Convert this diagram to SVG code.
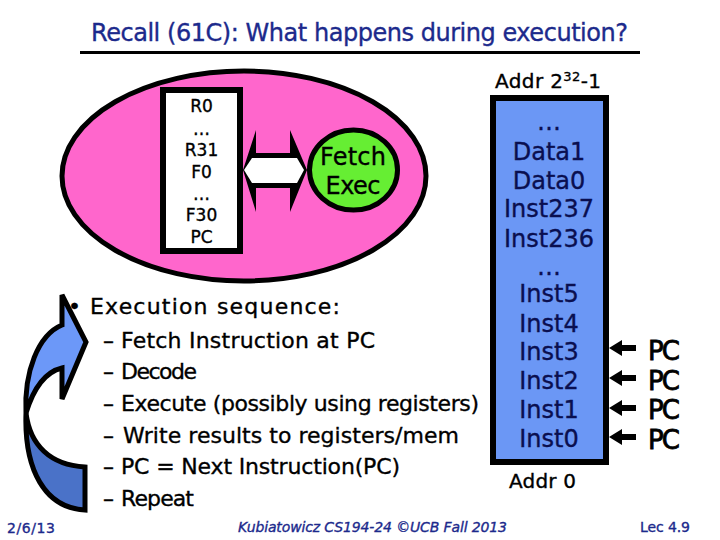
<svg xmlns="http://www.w3.org/2000/svg" width="720" height="540" viewBox="0 0 720 540">
<style>
text{font-family:"DejaVu Sans","Liberation Sans",sans-serif;fill:#000;stroke:#000;stroke-width:.35px}
.t{fill:#1c2a8c;stroke:#1c2a8c;font-size:24px}
.r{font-size:17px;text-anchor:middle}
.m{font-size:24px;text-anchor:middle;fill:#0a0f50;stroke:#0a0f50}
.b{font-size:22px}
.f{font-size:14px;fill:#1c2a8c;stroke:#1c2a8c}
.p{font-size:26px;stroke-width:.8px}
</style>
<rect width="720" height="540" fill="#fff"/>
<g id="title"><text class="t" x="91" y="41" textLength="537">Recall (61C): What happens during execution?</text>
<rect x="80" y="51" width="560" height="3" fill="#000"/></g>
<g id="cpu"><ellipse cx="244" cy="176" rx="182" ry="105" fill="#ff66cc" stroke="#000" stroke-width="5"/></g>
<g id="registers"><rect x="163" y="90" width="77" height="161" fill="#fff" stroke="#000" stroke-width="6"/>
<text class="r" x="201.500" y="112">R0</text><text class="r" x="201.500" y="135">…</text><text class="r" x="201.500" y="156">R31</text><text class="r" x="201.500" y="178">F0</text><text class="r" x="201.500" y="200">…</text><text class="r" x="201.500" y="221">F30</text><text class="r" x="201.500" y="243">PC</text></g>
<g id="fetch"><ellipse cx="353.500" cy="170" rx="44" ry="40" fill="#66ee33" stroke="#000" stroke-width="5"/>
<text x="353" y="165" font-size="24" text-anchor="middle" textLength="66">Fetch</text><text x="353" y="194" font-size="24" text-anchor="middle" textLength="55">Exec</text></g>
<g id="connectors">
<path d="M243 170L256 130V153H290V130L307 170L290 212V188H256V212Z" fill="#000"/>
<path d="M244 170L252 158H297L304 170L297 183H252Z" fill="#fff"/>
<path d="M609 348L622 340V345H636V351H622V356Z" fill="#000"/>
<path d="M609 378L622 370V375H636V381H622V386Z" fill="#000"/>
<path d="M609 408L622 400V405H636V411H622V416Z" fill="#000"/>
<path d="M609 437L622 429V434H636V440H622V445Z" fill="#000"/>
</g>
<g id="memory"><rect x="493" y="98" width="113" height="364" fill="#6b97f5" stroke="#000" stroke-width="6"/>
<text class="m" x="549" y="130">…</text><text class="m" x="549" y="160">Data1</text><text class="m" x="549" y="189">Data0</text><text class="m" x="549" y="217">Inst237</text><text class="m" x="549" y="247">Inst236</text><text class="m" x="549" y="275">…</text><text class="m" x="549" y="302">Inst5</text><text class="m" x="549" y="332">Inst4</text><text class="m" x="549" y="360">Inst3</text><text class="m" x="549" y="389">Inst2</text><text class="m" x="549" y="418">Inst1</text><text class="m" x="549" y="447">Inst0</text></g>
<g id="addr"><text x="495" y="88" font-size="20" textLength="106">Addr 2<tspan font-size="13" dy="-7">32</tspan><tspan dy="7">-1</tspan></text>
<text x="509" y="488" font-size="20" textLength="67">Addr 0</text></g>
<g id="pcs"><text class="p" x="648" y="360" textLength="32">PC</text><text class="p" x="648" y="390" textLength="32">PC</text><text class="p" x="648" y="419" textLength="32">PC</text><text class="p" x="648" y="449" textLength="32">PC</text></g>
<g id="curve"><path d="M62 368C45 372 33 390 26 413C24 372 38 335 62 325V295L86 342L62 399Z" fill="#6c98f8" stroke="#000" stroke-width="5"/>
<path d="M26 413C30 445 50 465 85 467V510C45 508 24 470 26 413Z" fill="#4a72c8" stroke="#000" stroke-width="5"/></g>
<g id="list">
<text class="b" x="68" y="314">•</text><text class="b" x="90" y="314" textLength="250">Execution sequence:</text>
<text class="b" x="103" y="348">–</text><text class="b" x="121" y="348" textLength="254">Fetch Instruction at PC</text>
<text class="b" x="103" y="379">–</text><text class="b" x="121" y="379" textLength="76">Decode</text>
<text class="b" x="103" y="411">–</text><text class="b" x="121" y="411" textLength="358">Execute (possibly using registers)</text>
<text class="b" x="103" y="443">–</text><text class="b" x="123" y="443" textLength="336">Write results to registers/mem</text>
<text class="b" x="103" y="474">–</text><text class="b" x="121" y="474" textLength="279">PC = Next Instruction(PC)</text>
<text class="b" x="103" y="506">–</text><text class="b" x="121" y="506" textLength="73">Repeat</text>
</g>
<g id="footer"><text class="f" x="7" y="533" textLength="48">2/6/13</text>
<text class="f" x="238" y="532" font-style="italic" textLength="269">Kubiatowicz CS194-24 ©UCB Fall 2013</text>
<text class="f" x="640" y="532" textLength="50">Lec 4.9</text></g>
</svg>
